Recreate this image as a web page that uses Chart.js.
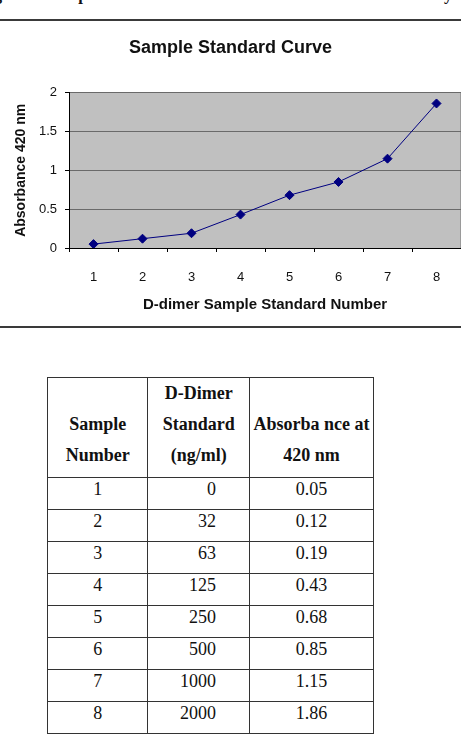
<!doctype html>
<html lang="en">
<head>
    <meta charset="utf-8">
    <title>Sample Standard Curve</title>
    <script src="https://cdn.jsdelivr.net/npm/chart.js"></script>
    <style>
        body {
            margin: 0;
            background: #fff;
            width: 461px;
            height: 753px;
            position: relative;
            overflow: hidden;
            font-family: "Liberation Serif", "Times New Roman", serif;
        }
        .caption {
            position: absolute;
            left: -21px;
            top: -13px;
            font-size: 16.7px;
            line-height: 16px;
            font-weight: bold;
            white-space: nowrap;
            color: #111;
        }
        .rule {
            position: absolute;
            left: 0;
            width: 461px;
            height: 2px;
            background: #3a3a3a;
        }
        .chart-box {
            position: absolute;
            left: 0;
            top: 22px;
            width: 461px;
            height: 304px;
        }
        table {
            position: absolute;
            left: 47px;
            top: 377px;
            width: 327px;
            border-collapse: collapse;
            font-size: 18px;
            color: #111;
        }
        th, td {
            border: 1.5px solid #333;
            padding: 0;
        }
        th {
            font-weight: bold;
            line-height: 31px;
            height: 95px;
            vertical-align: bottom;
            padding-bottom: 6px;
            box-sizing: border-box;
            white-space: nowrap;
        }
        td {
            height: 32px;
            box-sizing: border-box;
            vertical-align: top;
            line-height: 22px;
            text-align: center;
        }
        td.std {
            text-align: right;
            padding-right: 33px;
        }
    </style>
</head>
<body>
    <div class="caption">Figure 1. Sample Standard Curve and Data for the D-Dimer Assay</div>
    <div class="rule" style="top:19px"></div>
    <div class="chart-box">
        <canvas id="curveChart"></canvas>
    </div>
    <div class="rule" style="top:326px"></div>

    <table>
        <colgroup>
            <col style="width:101px">
            <col style="width:102px">
            <col style="width:124px">
        </colgroup>
        <thead>
            <tr>
                <th>Sample<br>Number</th>
                <th>D-Dimer<br>Standard<br>(ng/ml)</th>
                <th>Absorba nce at<br>420 nm</th>
            </tr>
        </thead>
        <tbody id="tableBody"></tbody>
    </table>

    <script>
        const sampleNumbers = ['1', '2', '3', '4', '5', '6', '7', '8'];
        const ddimerStandards = ['0', '32', '63', '125', '250', '500', '1000', '2000'];
        const absorbances = [0.05, 0.12, 0.19, 0.43, 0.68, 0.85, 1.15, 1.86];
        const absorbanceLabels = ['0.05', '0.12', '0.19', '0.43', '0.68', '0.85', '1.15', '1.86'];

        // table
        const tbody = document.getElementById('tableBody');
        sampleNumbers.forEach((num, i) => {
            const tr = document.createElement('tr');
            tr.innerHTML = `<td>${num}</td><td class="std">${ddimerStandards[i]}</td><td>${absorbanceLabels[i]}</td>`;
            tbody.appendChild(tr);
        });

        // grey plot background like the old excel chart
        const plotBackground = {
            id: 'plotBackground',
            beforeDraw(chart) {
                const { ctx, chartArea } = chart;
                ctx.save();
                ctx.fillStyle = '#c0c0c0';
                ctx.fillRect(chartArea.left, chartArea.top, chartArea.right - chartArea.left, chartArea.bottom - chartArea.top);
                ctx.strokeStyle = '#9a9a9a';
                ctx.lineWidth = 1;
                ctx.beginPath();
                ctx.moveTo(chartArea.right - 0.5, chartArea.top);
                ctx.lineTo(chartArea.right - 0.5, chartArea.bottom);
                ctx.stroke();
                ctx.restore();
            }
        };

        Chart.defaults.font.family = 'Arial, "Liberation Sans", sans-serif';
        Chart.defaults.color = '#111';

        const curveChart = new Chart(document.getElementById('curveChart').getContext('2d'), {
            type: 'line',
            data: {
                labels: sampleNumbers,
                datasets: [
                    {
                        label: 'Absorbance 420 nm',
                        data: absorbances,
                        borderColor: '#000080',
                        backgroundColor: '#000080',
                        borderWidth: 1,
                        fill: false,
                        tension: 0,
                        pointStyle: 'rectRot',
                        pointRadius: 4.5,
                        pointBorderWidth: 1
                    }
                ]
            },
            options: {
                animation: false,
                responsive: true,
                maintainAspectRatio: false,
                layout: { padding: 0, autoPadding: false },
                plugins: {
                    legend: { display: false },
                    tooltip: { enabled: false },
                    title: {
                        display: true,
                        text: 'Sample Standard Curve',
                        font: { size: 18, weight: 'bold' },
                        color: '#111',
                        padding: { top: 15, bottom: 34 }
                    }
                },
                scales: {
                    x: {
                        offset: true,
                        grid: {
                            display: true,
                            drawOnChartArea: false,
                            drawTicks: true,
                            tickLength: 4,
                            tickColor: '#000',
                            offset: true
                        },
                        border: { color: '#000', width: 1 },
                        ticks: { font: { size: 13 }, padding: 18, color: '#111' },
                        title: {
                            display: true,
                            text: 'D-dimer Sample Standard Number',
                            font: { size: 15, weight: 'bold' },
                            color: '#111',
                            padding: { top: 0, bottom: 12 }
                        },
                        afterFit(scale) {
                            scale.height = 78;
                            scale.paddingLeft = 0;
                            scale.paddingRight = 0;
                        }
                    },
                    y: {
                        min: 0,
                        max: 2,
                        ticks: {
                            stepSize: 0.5,
                            font: { size: 13 },
                            padding: 8,
                            color: '#111',
                            callback: (value) => String(value)
                        },
                        grid: {
                            color: '#6a6a6a',
                            tickColor: '#000',
                            tickLength: 4
                        },
                        border: { color: '#000', width: 1 },
                        title: {
                            display: true,
                            text: 'Absorbance 420 nm',
                            font: { size: 14, weight: 'bold' },
                            color: '#111',
                            padding: { top: 13, bottom: 0 }
                        },
                        afterFit(scale) { scale.width = 69; }
                    }
                }
            },
            plugins: [plotBackground]
        });
    </script>
</body>
</html>
